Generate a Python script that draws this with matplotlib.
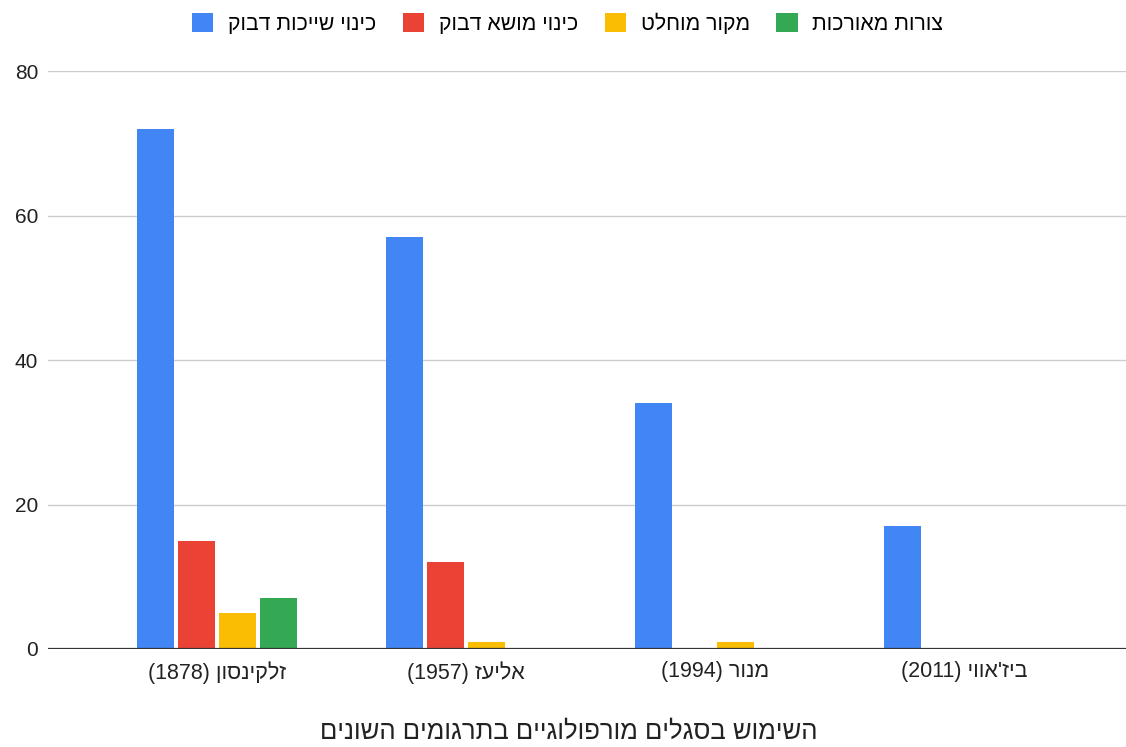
import re
import numpy as np
import matplotlib
matplotlib.use("Agg")
import matplotlib.pyplot as plt

plt.rcParams['font.family'] = ['Liberation Sans', 'DejaVu Sans']

# Data (Hebrew strings kept in logical order)
translations = ["זלקינסון (1878)", "אליעז (1957)", "מנור (1994)", "ביז'אווי (2011)"]
series_names = ["כינוי שייכות דבוק", "כינוי מושא דבוק", "מקור מוחלט", "צורות מאורכות"]
possessive = [72, 57, 34, 17]
object_suffix = [15, 12, 0, 0]
infinitive = [5, 1, 1, 0]
lengthened = [7, 0, 0, 0]
title = "השימוש בסגלים מורפולוגיים בתרגומים השונים"

colors = ["#4285f4", "#ea4335", "#fbbc04", "#34a853"]


# matplotlib has no bidi support: turn logical RTL text into visual order
def visual(s):
    r = s[::-1]
    r = re.sub(r"[0-9A-Za-z.]+", lambda m: m.group(0)[::-1], r)
    return r.translate(str.maketrans("()", ")("))


fig = plt.figure(figsize=(11.26, 7.47), dpi=100)
ax = fig.add_axes([0.0426, 0.1312, 0.9574, 0.7737])

x = np.arange(len(translations))
width = 0.1486
step = 0.1647
all_series = [possessive, object_suffix, infinitive, lengthened]
for i, (vals, col, name) in enumerate(zip(all_series, colors, series_names)):
    ax.bar(x + (i - 1.5) * step, vals, width, color=col, label=visual(name), zorder=3)

ax.set_ylim(0, 80)
ax.set_xlim(-0.679, 3.65)
ax.set_yticks([0, 20, 40, 60, 80])
ax.set_xticks(x)
ax.set_xticklabels([visual(t) for t in translations], fontsize=15.5)
ax.tick_params(axis='y', labelsize=15, length=0, pad=7, labelcolor='#222222')
ax.tick_params(axis='x', length=0, pad=9, labelcolor='#222222')
ax.grid(axis='y', color='#cccccc', linewidth=1, zorder=0)
for sp in ax.spines.values():
    sp.set_visible(False)
ax.axhline(0, color='#333333', linewidth=1.6, zorder=4)

fig.legend(loc='center', bbox_to_anchor=(0.504, 1 - 23 / 747), ncol=4, frameon=False,
           fontsize=15.3, handlelength=1.0, handleheight=1.0, columnspacing=1.25,
           handletextpad=0.7, borderpad=0)

# title sits at the very bottom edge, as in the reference
fig.text(0.505, 1 - 720 / 747, visual(title), ha='center', va='top', fontsize=18.5,
         color='#222222')

fig.savefig("out.png", dpi=100)
